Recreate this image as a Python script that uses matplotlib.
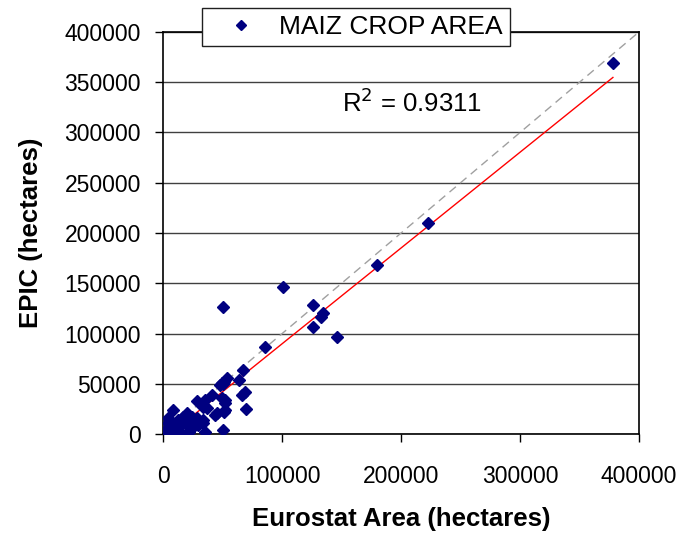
import numpy as np
import matplotlib.pyplot as plt

plt.rcParams['font.family'] = ['Liberation Sans', 'DejaVu Sans']

# Eurostat area vs EPIC area (hectares)
eurostat = [378000, 223000, 179500, 100600, 50400, 126300, 134700, 132800, 126300, 146200,
            85700, 67000, 51300, 53500, 64100, 68900, 66100, 69500, 50700, 49300,
            52100, 52100, 50700, 43700, 40900, 35300, 33900, 33300, 35300, 28300,
            36700, 47900, 45100, 33900, 8100, 22100, 15700, 4500, 17100, 19900,
            24100, 28300, 5900, 11500, 1700, 8700, 14300, 12900, 19900, 4500,
            26900, 29700, 11500, 22700, 1000, 2500, 3000, 6000, 7000, 9000,
            10000, 13000, 15000, 17000, 20000, 3500, 500, 2000, 6500, 9500,
            52100, 49300, 51300]
epic = [369000, 210000, 168500, 146600, 126400, 128400, 120700, 116100, 106500, 96500,
        86600, 63700, 52000, 55400, 53700, 42100, 38800, 24900, 49700, 35500,
        33800, 23900, 4000, 18900, 38800, 33800, 27200, 13900, 2300, 33200,
        25600, 48800, 20600, 10600, 23900, 2300, 0, 15600, 13900, 20600,
        16600, 15600, 7300, 4000, 700, 700, 9000, 13900, 9000, 10600,
        13900, 9000, 700, 4000, 2000, 3500, 1000, 4000, 6000, 8000,
        10000, 11000, 15000, 17000, 18000, 5500, 300, 300, 2000, 3000,
        30500, 50400, 22200]
r2_text = 'R$^2$ = 0.9311'
series_name = 'MAIZ CROP AREA'

x = np.array(eurostat)
y = np.array(epic)
slope, intercept = np.polyfit(x, y, 1)

fig = plt.figure(figsize=(7, 5.4), dpi=100)
ax = fig.add_axes([0.233, 0.196, 0.68, 0.745])

ax.plot([0, 400000], [0, 400000], color='#a0a0a0', lw=1, ls=(0, (6, 4)), zorder=2)
xf = np.array([x.min(), x.max()])
ax.plot(xf, slope * xf + intercept, color='red', lw=1, zorder=2)
ax.plot(x, y, ls='none', marker='D', ms=6.5, color='#000080', zorder=3, label=series_name)

ax.set_xlim(0, 400000)
ax.set_ylim(0, 400000)
ax.set_xticks(np.arange(0, 400001, 100000))
ax.set_yticks(np.arange(0, 400001, 50000))
ax.yaxis.grid(True, color='#404040', lw=1)
ax.set_axisbelow(True)
for s in ax.spines.values():
    s.set_linewidth(1.2)
ax.tick_params(direction='out', length=6, width=1, labelsize=16.5)
ax.tick_params(axis='x', pad=16)
ax.tick_params(axis='y', pad=10)

ax.set_xlabel('Eurostat Area (hectares)', fontsize=18.5, fontweight='bold')
ax.set_ylabel('EPIC (hectares)', fontsize=18.5, fontweight='bold')
ax.xaxis.set_label_coords(0.5, -0.182)
ax.yaxis.set_label_coords(-0.252, 0.5)

ax.text(0.375, 0.80, r2_text, transform=ax.transAxes, fontsize=18.5)

leg = ax.legend(loc='center', bbox_to_anchor=(0.509, 0.95), bbox_transform=fig.transFigure,
                fontsize=19, frameon=True, fancybox=False, edgecolor='#202020',
                framealpha=1, markerscale=0.75, handlelength=2.4, handletextpad=0.25,
                borderpad=0.27, borderaxespad=0)
leg.get_frame().set_linewidth(1)

fig.savefig('out.png', dpi=100)
